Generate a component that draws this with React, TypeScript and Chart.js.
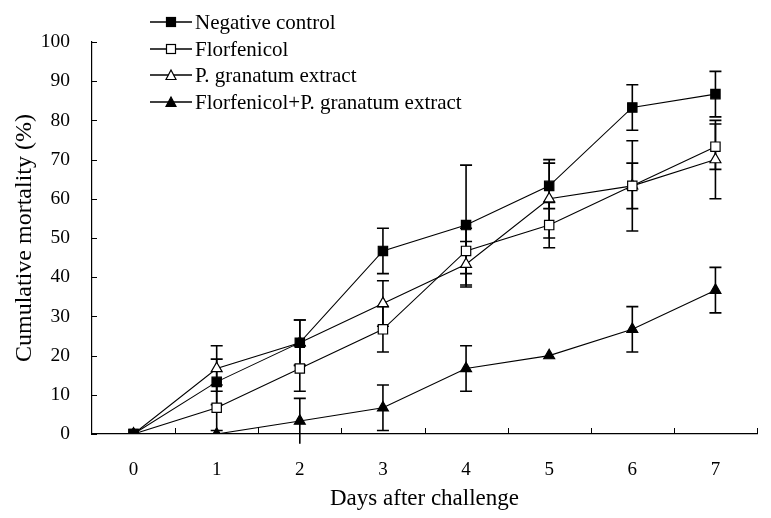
import React, { useEffect, useRef } from 'react';
import { Chart, registerables } from 'chart.js';

Chart.register(...registerables);

const days = ['0', '1', '2', '3', '4', '5', '6', '7'];
const negativeControl = [0, 13.3, 23.3, 46.7, 53.3, 63.3, 83.3, 86.7];
const negativeControlSD = [0, 5.8, 5.8, 5.8, 15.3, 5.8, 5.8, 5.8];
const florfenicol = [0, 6.7, 16.7, 26.7, 46.7, 53.3, 63.3, 73.3];
const florfenicolSD = [0, 5.8, 5.8, 5.8, 5.8, 5.8, 11.5, 5.8];
const granatum = [0, 16.7, 23.3, 33.3, 43.3, 60, 63.3, 70];
const granatumSD = [0, 5.8, 5.8, 5.8, 5.8, 10, 5.8, 10];
const combo = [0, 0, 3.3, 6.7, 16.7, 20, 26.7, 36.7];
const comboSD = [0, 0, 5.8, 5.8, 5.8, 0, 5.8, 5.8];

const seriesNames = [
  'Negative control',
  'Florfenicol',
  'P. granatum extract',
  'Florfenicol+P. granatum extract',
];

const FONT = '"Liberation Serif", "Times New Roman", serif';

const errorBarsPlugin = {
  id: 'errorBars',
  beforeDatasetsDraw(chart: any) {
    const ctx = chart.ctx;
    const ys = chart.scales.y;
    ctx.save();
    ctx.strokeStyle = '#000';
    ctx.lineWidth = 1.6;
    chart.data.datasets.forEach((ds: any, di: number) => {
      const meta = chart.getDatasetMeta(di);
      const errs: number[] = ds.errors || [];
      meta.data.forEach((pt: any, i: number) => {
        const e = errs[i];
        if (!e) return;
        const v = ds.data[i] as number;
        const x = pt.x;
        const yTop = ys.getPixelForValue(v + e);
        const yBot = ys.getPixelForValue(v - e);
        ctx.beginPath();
        ctx.moveTo(x, yTop);
        ctx.lineTo(x, yBot);
        ctx.moveTo(x - 6, yTop);
        ctx.lineTo(x + 6, yTop);
        if (v - e >= ys.min) {
          ctx.moveTo(x - 6, yBot);
          ctx.lineTo(x + 6, yBot);
        }
        ctx.stroke();
      });
    });
    ctx.restore();
  },
};

const axisTicksPlugin = {
  id: 'axisTicks',
  beforeDatasetsDraw(chart: any) {
    const ctx = chart.ctx;
    const ys = chart.scales.y;
    const area = chart.chartArea;
    ctx.save();
    ctx.strokeStyle = '#000';
    ctx.lineWidth = 1;
    ctx.beginPath();
    const n = days.length;
    for (let i = 1; i <= n; i++) {
      const px = Math.round(area.left + ((area.right - area.left) * i) / n) + 0.5;
      ctx.moveTo(px, area.bottom);
      ctx.lineTo(px, area.bottom - 6);
    }
    ys.ticks.forEach((t: any) => {
      const py = Math.round(ys.getPixelForValue(t.value)) + 0.5;
      ctx.moveTo(area.left, py);
      ctx.lineTo(area.left + 5, py);
    });
    ctx.stroke();
    ctx.restore();
  },
};

function Marker({ kind }: { kind: number }) {
  const filled = kind === 0 || kind === 3;
  const fill = filled ? '#000' : '#fff';
  return (
    <svg width="42" height="14" style={{ display: 'block' }}>
      <line x1="0" y1="7" x2="42" y2="7" stroke="#000" strokeWidth="1.4" />
      {kind < 2 ? (
        <rect x="16.5" y="2.5" width="9" height="9" fill={fill} stroke="#000" strokeWidth="1.2" />
      ) : (
        <polygon points="21,2 26,11.5 16,11.5" fill={fill} stroke="#000" strokeWidth="1.2" />
      )}
    </svg>
  );
}

export default function App() {
  const ref = useRef<HTMLCanvasElement | null>(null);

  useEffect(() => {
    document.body.style.margin = '0';
    const canvas = ref.current;
    if (!canvas) return;
    const common = {
      borderColor: '#000',
      borderWidth: 1.1,
      pointBorderColor: '#000',
      pointBorderWidth: 1.2,
      tension: 0,
      fill: false,
    };
    const chart = new Chart(canvas, {
      type: 'line',
      data: {
        labels: days,
        datasets: [
          { ...common, label: seriesNames[0], data: negativeControl, errors: negativeControlSD, pointStyle: 'rect', pointRadius: 6.6, pointBackgroundColor: '#000' } as any,
          { ...common, label: seriesNames[1], data: florfenicol, errors: florfenicolSD, pointStyle: 'rect', pointRadius: 6.6, pointBackgroundColor: '#fff' } as any,
          { ...common, label: seriesNames[2], data: granatum, errors: granatumSD, pointStyle: 'triangle', pointRadius: 6.3, pointBackgroundColor: '#fff' } as any,
          { ...common, label: seriesNames[3], data: combo, errors: comboSD, pointStyle: 'triangle', pointRadius: 6.3, pointBackgroundColor: '#000' } as any,
        ],
      },
      options: {
        animation: false,
        responsive: false,
        devicePixelRatio: 1,
        layout: { padding: { left: 0, right: 14, top: 42, bottom: 0 } },
        plugins: {
          legend: { display: false },
          tooltip: { enabled: false },
        },
        scales: {
          x: {
            type: 'category',
            offset: true,
            grid: { display: false, offset: true },
            border: { display: true, color: '#000', width: 1.2 },
            ticks: { color: '#000', font: { family: FONT, size: 19 }, padding: 17 },
            title: {
              display: true,
              text: 'Days after challenge',
              color: '#000',
              font: { family: FONT, size: 23 },
              padding: { top: 0, bottom: 5 },
            },
            afterFit: (s: any) => {
              s.height = 84;
            },
          },
          y: {
            min: 0,
            max: 100,
            ticks: { stepSize: 10, color: '#000', font: { family: FONT, size: 19.5 }, padding: 14 },
            grid: { display: false },
            border: { display: true, color: '#000', width: 1.2 },
            title: {
              display: true,
              text: 'Cumulative mortality (%)',
              color: '#000',
              font: { family: FONT, size: 24 },
              padding: { top: 10, bottom: 0 },
            },
            afterFit: (s: any) => {
              s.width = 92;
            },
          },
        },
      } as any,
      plugins: [errorBarsPlugin, axisTicksPlugin],
    });
    return () => chart.destroy();
  }, []);

  const rowTops = [22, 48.5, 75, 101.5];

  return (
    <div style={{ position: 'relative', width: 771, height: 518, background: '#fff' }}>
      <canvas ref={ref} width={771} height={518} style={{ display: 'block' }} />
      {seriesNames.map((name, i) => (
        <div
          key={name}
          style={{
            position: 'absolute',
            left: 150,
            top: rowTops[i] - 12,
            height: 24,
            display: 'flex',
            alignItems: 'center',
            fontFamily: FONT,
            fontSize: 21,
            color: '#000',
            whiteSpace: 'nowrap',
            lineHeight: '24px',
          }}
        >
          <Marker kind={i} />
          <span style={{ marginLeft: 3 }}>{name}</span>
        </div>
      ))}
    </div>
  );
}
